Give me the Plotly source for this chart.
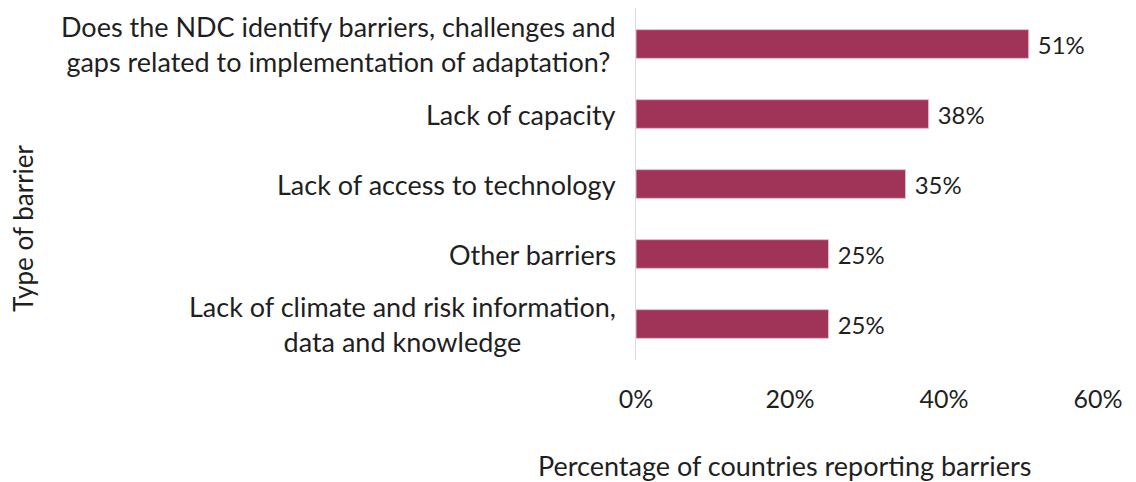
import plotly.graph_objects as go

CATEGORIES = [
    "Lack of climate and risk information,<br>data and knowledge",
    "Other barriers",
    "Lack of access to technology",
    "Lack of capacity",
    "Does the NDC identify barriers, challenges and<br>gaps related to implementation of adaptation?",
]
SHARE_PCT = [25, 25, 35, 38, 51]
X_TICKS = [0, 20, 40, 60]

BAR_COLOR = "#A03358"
TEXT_COLOR = "#1f1f1f"
FONT = "Lato, 'Open Sans', sans-serif"

W, H = 1136, 482
# the page body adds an 8px offset, so margins are shifted accordingly
M = dict(l=628, r=46, t=0, b=130)
plot_w = W - M["l"] - M["r"]
plot_h = H - M["t"] - M["b"]

fig = go.Figure(
    go.Bar(
        x=SHARE_PCT,
        y=CATEGORIES,
        orientation="h",
        width=0.41,
        marker=dict(color=BAR_COLOR, line=dict(color="#e8b8c8", width=1)),
        text=[f" {v}%" for v in SHARE_PCT],
        textposition="outside",
        textfont=dict(size=25, color=TEXT_COLOR, family=FONT),
        cliponaxis=False,
        hoverinfo="skip",
    )
)

# category labels as annotations: multi-line labels are centred in the original
for cat in CATEGORIES:
    fig.add_annotation(
        text=cat,
        xref="paper",
        yref="y",
        x=0,
        y=cat,
        xanchor="right",
        yanchor="middle",
        xshift=-18,
        align="center",
        showarrow=False,
        font=dict(size=27, color=TEXT_COLOR, family=FONT),
    )

# axis titles as annotations so they sit where the original has them
fig.add_annotation(
    text="Type of barrier",
    textangle=-90,
    xref="paper",
    yref="paper",
    x=(15 - M["l"]) / plot_w,
    y=0.375,
    xanchor="center",
    yanchor="middle",
    showarrow=False,
    font=dict(size=26, color=TEXT_COLOR, family=FONT),
)
fig.add_annotation(
    text="Percentage of countries reporting barriers",
    xref="paper",
    yref="paper",
    x=(776 - M["l"]) / plot_w,
    y=-105 / plot_h,
    xanchor="center",
    yanchor="middle",
    showarrow=False,
    font=dict(size=27, color=TEXT_COLOR, family=FONT),
)

fig.update_layout(
    width=W,
    height=H,
    margin=M,
    plot_bgcolor="white",
    paper_bgcolor="white",
    showlegend=False,
    font=dict(family=FONT, color=TEXT_COLOR, size=26),
)
fig.update_xaxes(
    range=[0, 60],
    tickvals=X_TICKS,
    ticktext=[f"{v}%" for v in X_TICKS],
    showgrid=False,
    zeroline=False,
    showline=False,
    ticks="",
    ticklabelstandoff=22,
    tickfont=dict(size=25),
    automargin=False,
)
fig.update_yaxes(
    showgrid=False,
    zeroline=False,
    showline=True,
    linecolor="#d9d9d9",
    linewidth=1,
    ticks="",
    showticklabels=False,
    automargin=False,
)

fig.write_html("out.html")
